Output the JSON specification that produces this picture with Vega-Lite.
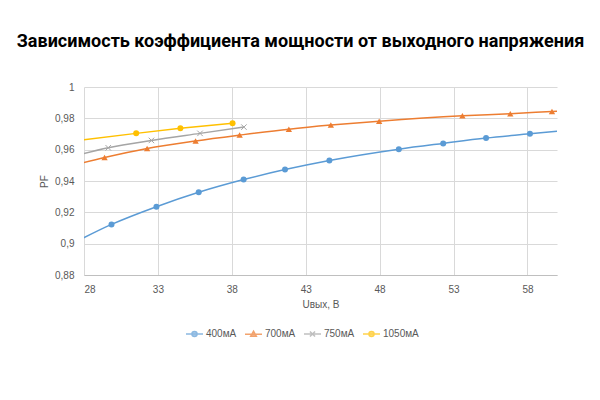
{
  "$schema": "https://vega.github.io/schema/vega-lite/v6.json",
  "autosize": "none",
  "width": 473,
  "height": 188,
  "padding": {"left": 84, "top": 87, "right": 43, "bottom": 125},
  "background": "white",
  "title": {
    "text": "Зависимость коэффициента мощности от выходного напряжения",
    "font": "Roboto",
    "fontSize": 18,
    "fontWeight": "bold",
    "color": "black",
    "anchor": "middle",
    "baseline": "alphabetic",
    "offset": 17,
    "dx": -20
  },
  "data": {
    "values": [
      {"series": "400мА", "U": 27, "PF": 0.899},
      {"series": "400мА", "U": 29.86, "PF": 0.9123},
      {"series": "400мА", "U": 32.9, "PF": 0.9236},
      {"series": "400мА", "U": 35.76, "PF": 0.9328},
      {"series": "400мА", "U": 38.8, "PF": 0.9409},
      {"series": "400мА", "U": 41.6, "PF": 0.9473},
      {"series": "400мА", "U": 44.6, "PF": 0.9531},
      {"series": "400мА", "U": 49.3, "PF": 0.9603},
      {"series": "400мА", "U": 52.3, "PF": 0.964},
      {"series": "400мА", "U": 55.2, "PF": 0.9674},
      {"series": "400мА", "U": 58.17, "PF": 0.9701},
      {"series": "400мА", "U": 61, "PF": 0.9727},
      {"series": "700мА", "U": 27, "PF": 0.9493},
      {"series": "700мА", "U": 29.39, "PF": 0.955},
      {"series": "700мА", "U": 32.27, "PF": 0.9608},
      {"series": "700мА", "U": 35.55, "PF": 0.9656},
      {"series": "700мА", "U": 38.53, "PF": 0.9693},
      {"series": "700мА", "U": 41.86, "PF": 0.9731},
      {"series": "700мА", "U": 44.7, "PF": 0.9757},
      {"series": "700мА", "U": 47.97, "PF": 0.9782},
      {"series": "700мА", "U": 53.6, "PF": 0.9816},
      {"series": "700мА", "U": 56.84, "PF": 0.9829},
      {"series": "700мА", "U": 59.66, "PF": 0.9844},
      {"series": "700мА", "U": 61, "PF": 0.9851},
      {"series": "750мА", "U": 27, "PF": 0.9551},
      {"series": "750мА", "U": 29.64, "PF": 0.9612},
      {"series": "750мА", "U": 32.56, "PF": 0.9659},
      {"series": "750мА", "U": 35.85, "PF": 0.9704},
      {"series": "750мА", "U": 38.82, "PF": 0.9744},
      {"series": "1050мА", "U": 27, "PF": 0.9651},
      {"series": "1050мА", "U": 31.53, "PF": 0.9704},
      {"series": "1050мА", "U": 34.52, "PF": 0.9736},
      {"series": "1050мА", "U": 38.05, "PF": 0.9768}
    ]
  },
  "encoding": {
    "x": {
      "field": "U",
      "type": "quantitative",
      "title": "Uвых, В",
      "scale": {"domain": [28, 60], "nice": false, "zero": false},
      "axis": {
        "values": [28, 33, 38, 43, 48, 53, 58],
        "labelPadding": 9,
        "titlePadding": 5,
        "domainColor": "#bfbfbf"
      }
    },
    "y": {
      "field": "PF",
      "type": "quantitative",
      "title": "PF",
      "scale": {"domain": [0.88, 1], "nice": false, "zero": false},
      "axis": {
        "values": [0.88, 0.9, 0.92, 0.94, 0.96, 0.98, 1],
        "format": "~g",
        "labelExpr": "replace(datum.label, '.', ',')",
        "labelPadding": 10,
        "titlePadding": 5,
        "domain": false
      }
    }
  },
  "layer": [
    {
      "mark": {"type": "line", "interpolate": "monotone", "strokeWidth": 1.5, "clip": true},
      "encoding": {
        "color": {
          "field": "series",
          "type": "nominal",
          "legend": null,
          "scale": {"range": ["#FFC000", "#5B9BD5", "#ED7D31", "#A5A5A5"]}
        }
      }
    },
    {
      "transform": [{"filter": {"field": "series", "oneOf": ["400мА", "1050мА"]}}],
      "mark": {"type": "point", "shape": "circle", "filled": true, "opacity": 1, "size": 36, "clip": true},
      "encoding": {
        "color": {"field": "series", "type": "nominal", "legend": null}
      }
    },
    {
      "transform": [{"filter": {"field": "series", "equal": "700мА"}}],
      "mark": {"type": "point", "shape": "triangle-up", "filled": true, "opacity": 1, "size": 40, "clip": true},
      "encoding": {
        "color": {"field": "series", "type": "nominal", "legend": null}
      }
    },
    {
      "transform": [{"filter": {"field": "series", "equal": "750мА"}}],
      "mark": {"type": "point", "shape": "M-1,-1L1,1M1,-1L-1,1", "filled": false, "opacity": 1, "size": 30, "strokeWidth": 1, "clip": true},
      "encoding": {
        "color": {"field": "series", "type": "nominal", "legend": null}
      }
    },
    {
      "data": {"values": []},
      "mark": {"type": "point", "filled": true, "clip": true},
      "encoding": {
        "fill": {
          "field": "series",
          "type": "nominal",
          "scale": {
            "domain": ["400мА", "700мА", "750мА", "1050мА"],
            "range": ["#5B9BD5", "#ED7D31", "#A5A5A5", "#FFC000"]
          },
          "legend": {"orient": "none", "legendX": 101, "legendY": 237, "direction": "horizontal", "title": null}
        },
        "stroke": {
          "field": "series",
          "type": "nominal",
          "scale": {
            "domain": ["400мА", "700мА", "750мА", "1050мА"],
            "range": ["#5B9BD5", "#ED7D31", "#A5A5A5", "#FFC000"]
          },
          "legend": {"orient": "none", "legendX": 101, "legendY": 237, "direction": "horizontal", "title": null}
        },
        "shape": {
          "field": "series",
          "type": "nominal",
          "scale": {
            "domain": ["400мА", "700мА", "750мА", "1050мА"],
            "range": [
              "M-1,0H1M0.3,0A0.3,0.3,0,1,1,-0.3,0A0.3,0.3,0,1,1,0.3,0",
              "M-1,0H1M0,-0.35L0.33,0.25L-0.33,0.25Z",
              "M-1,0H1M-0.3,-0.3L0.3,0.3M0.3,-0.3L-0.3,0.3",
              "M-1,0H1M0.3,0A0.3,0.3,0,1,1,-0.3,0A0.3,0.3,0,1,1,0.3,0"
            ]
          },
          "legend": {"orient": "none", "legendX": 101, "legendY": 237, "direction": "horizontal", "title": null}
        }
      }
    }
  ],
  "config": {
    "view": {"stroke": null},
    "font": "Liberation Sans",
    "axis": {
      "grid": true,
      "gridColor": "#d9d9d9",
      "gridWidth": 1,
      "ticks": false,
      "labelColor": "#595959",
      "labelFontSize": 10,
      "labelFont": "Liberation Sans",
      "titleColor": "#595959",
      "titleFontSize": 10,
      "titleFontWeight": "normal",
      "titleFont": "Liberation Sans"
    },
    "legend": {
      "symbolSize": 289,
      "symbolStrokeWidth": 1.5,
      "labelFontSize": 10,
      "labelColor": "#595959",
      "labelFont": "Liberation Sans",
      "labelOffset": 2,
      "columnPadding": 5
    }
  }
}
